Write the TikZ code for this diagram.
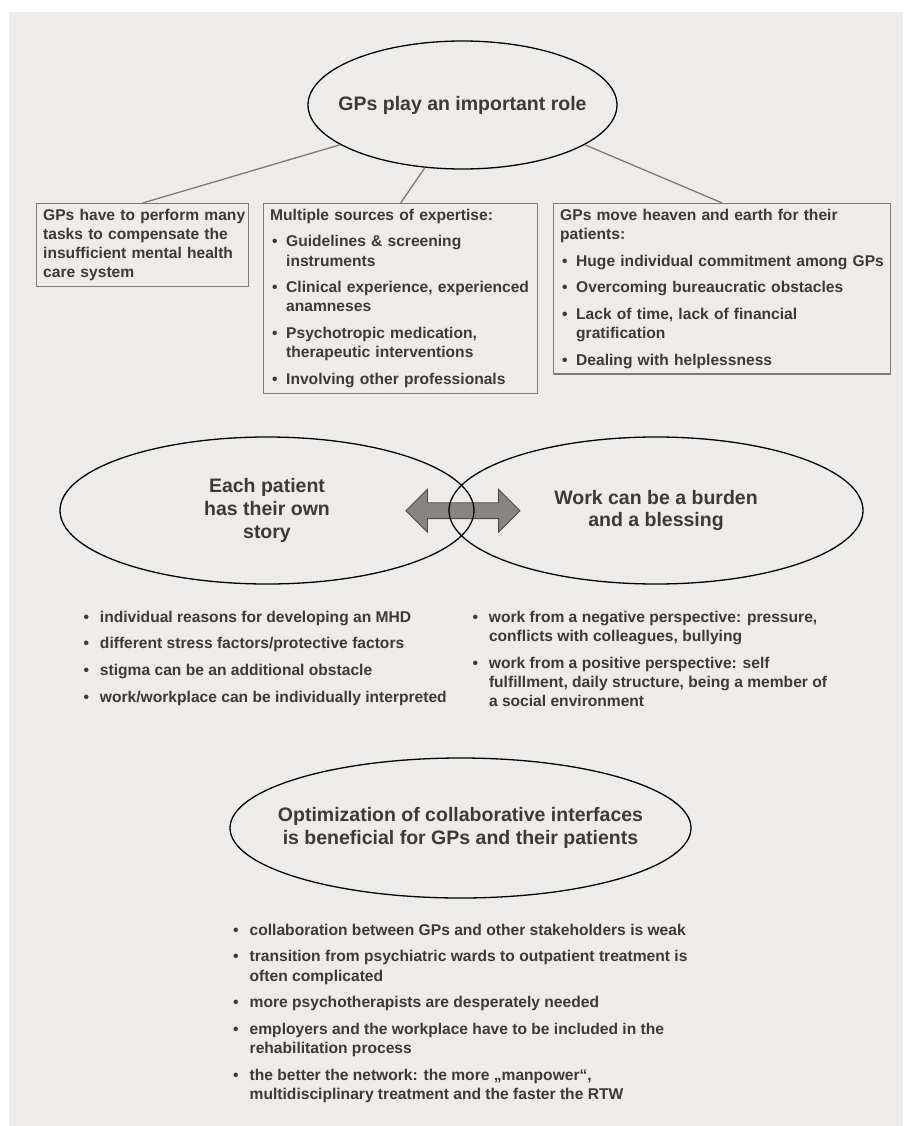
\documentclass[tikz,border=0pt]{standalone}
\usepackage{fontspec}
\setmainfont{Liberation Sans}
\usetikzlibrary{shapes.geometric}
\usetikzlibrary{shapes.arrows}

\definecolor{paper}{RGB}{237,236,234}
\definecolor{ink}{RGB}{62,56,56}
\definecolor{frame}{RGB}{125,122,120}
\definecolor{shaft}{RGB}{138,132,128}

\newcommand{\bul}[1][16pt]{\makebox[#1][l]{\hspace{2pt}\textbullet}}

\tikzset{
  theme/.style={ellipse, draw=black, line width=1.3pt, inner xsep=-60pt, inner ysep=0pt,
    align=center, text=ink, font=\bfseries\fontsize{19.5}{22.7}\selectfont},
  card/.style={draw=frame, line width=1.4pt, anchor=north west, inner xsep=6.5pt,
    inner ysep=3pt, text=ink, font=\bfseries\fontsize{15.6}{19.2}\selectfont},
  list/.style={anchor=north west, inner sep=0pt, text=ink,
    font=\bfseries\fontsize{15.6}{19.2}\selectfont},
  link/.style={draw=frame, line width=1.3pt},
  dblarrow/.style={double arrow, draw=black!70, fill=shaft, line width=0.8pt, inner sep=0pt,
    text height=7.5pt, text depth=7.5pt, minimum height=114pt, double arrow head extend=13.5pt}
}

\begin{document}
\begin{tikzpicture}[x=1pt,y=-1pt]
\useasboundingbox (0,0) rectangle (903,1126);
\fill[paper] (9,12) rectangle (903,1126);

% first theme
\node[theme, minimum width=309pt, minimum height=128pt] (role) at (462.5,105) {GPs play an important role};
\node[card, text width=199pt] (tasks) at (36,203) {\begin{tabular}{@{}l@{}}
GPs have to perform many\\
tasks to compensate the\\
insufficient mental health\\
care system
\end{tabular}};
\node[card, text width=261pt] (sources) at (263,203) {\begin{tabular}{@{}l@{}l@{}}
\multicolumn{2}{@{}l@{}}{Multiple sources of expertise:}\\[7.5pt]
\bul & Guidelines \& screening\\
     & instruments\\[7.5pt]
\bul & Clinical experience, experienced\\
     & anamneses\\[7.5pt]
\bul & Psychotropic medication,\\
     & therapeutic interventions\\[7.5pt]
\bul & Involving other professionals
\end{tabular}};
\node[card, text width=324pt] (heaven) at (553,203) {\begin{tabular}{@{}l@{}l@{}}
\multicolumn{2}{@{}l@{}}{GPs move heaven and earth for their}\\
\multicolumn{2}{@{}l@{}}{patients:}\\[7.5pt]
\bul & Huge individual commitment among GPs\\[7.5pt]
\bul & Overcoming bureaucratic obstacles\\[7.5pt]
\bul & Lack of time, lack of financial\\
     & gratification\\[7.5pt]
\bul & Dealing with helplessness
\end{tabular}};
\draw[link] (role.198) -- (tasks.north);
\draw[link] (role.239) -- (sources.north);
\draw[link] (role.342) -- (heaven.north);

% second theme
\node[dblarrow] (swap) at (463,510.7) {};
\node[theme, minimum width=414pt, minimum height=147pt] (story) at (267,510.5) {Each patient\\has their own\\story};
\node[theme, minimum width=414pt, minimum height=147pt] (burden) at (656,510.5) {Work can be a burden\\and a blessing};
\node[list] (storylist) at (81.3,608.5) {\begin{tabular}{@{}l@{}l@{}}
\bul[18.5pt] & individual reasons for developing an MHD\\[7.5pt]
\bul[18.5pt] & different stress factors/protective factors\\[7.5pt]
\bul[18.5pt] & stigma can be an additional obstacle\\[7.5pt]
\bul[18.5pt] & work/workplace can be individually interpreted
\end{tabular}};
\node[list] (burdenlist) at (470.3,608.5) {\begin{tabular}{@{}l@{}l@{}}
\bul[18.5pt] & work from a negative perspective: pressure,\\
             & conflicts with colleagues, bullying\\[7.5pt]
\bul[18.5pt] & work from a positive perspective: self\\
             & fulfillment, daily structure, being a member of\\
             & a social environment
\end{tabular}};

% third theme
\node[theme, minimum width=461pt, minimum height=140pt] (optim) at (460.5,828) {Optimization of collaborative interfaces\\is beneficial for GPs and their patients};
\node[list] (optimlist) at (231,921.5) {\begin{tabular}{@{}l@{}l@{}}
\bul[18.5pt] & collaboration between GPs and other stakeholders is weak\\[7.5pt]
\bul[18.5pt] & transition from psychiatric wards to outpatient treatment is\\
             & often complicated\\[7.5pt]
\bul[18.5pt] & more psychotherapists are desperately needed\\[7.5pt]
\bul[18.5pt] & employers and the workplace have to be included in the\\
             & rehabilitation process\\[7.5pt]
\bul[18.5pt] & the better the network: the more „manpower“,\\
             & multidisciplinary treatment and the faster the RTW
\end{tabular}};
\end{tikzpicture}
\end{document}
